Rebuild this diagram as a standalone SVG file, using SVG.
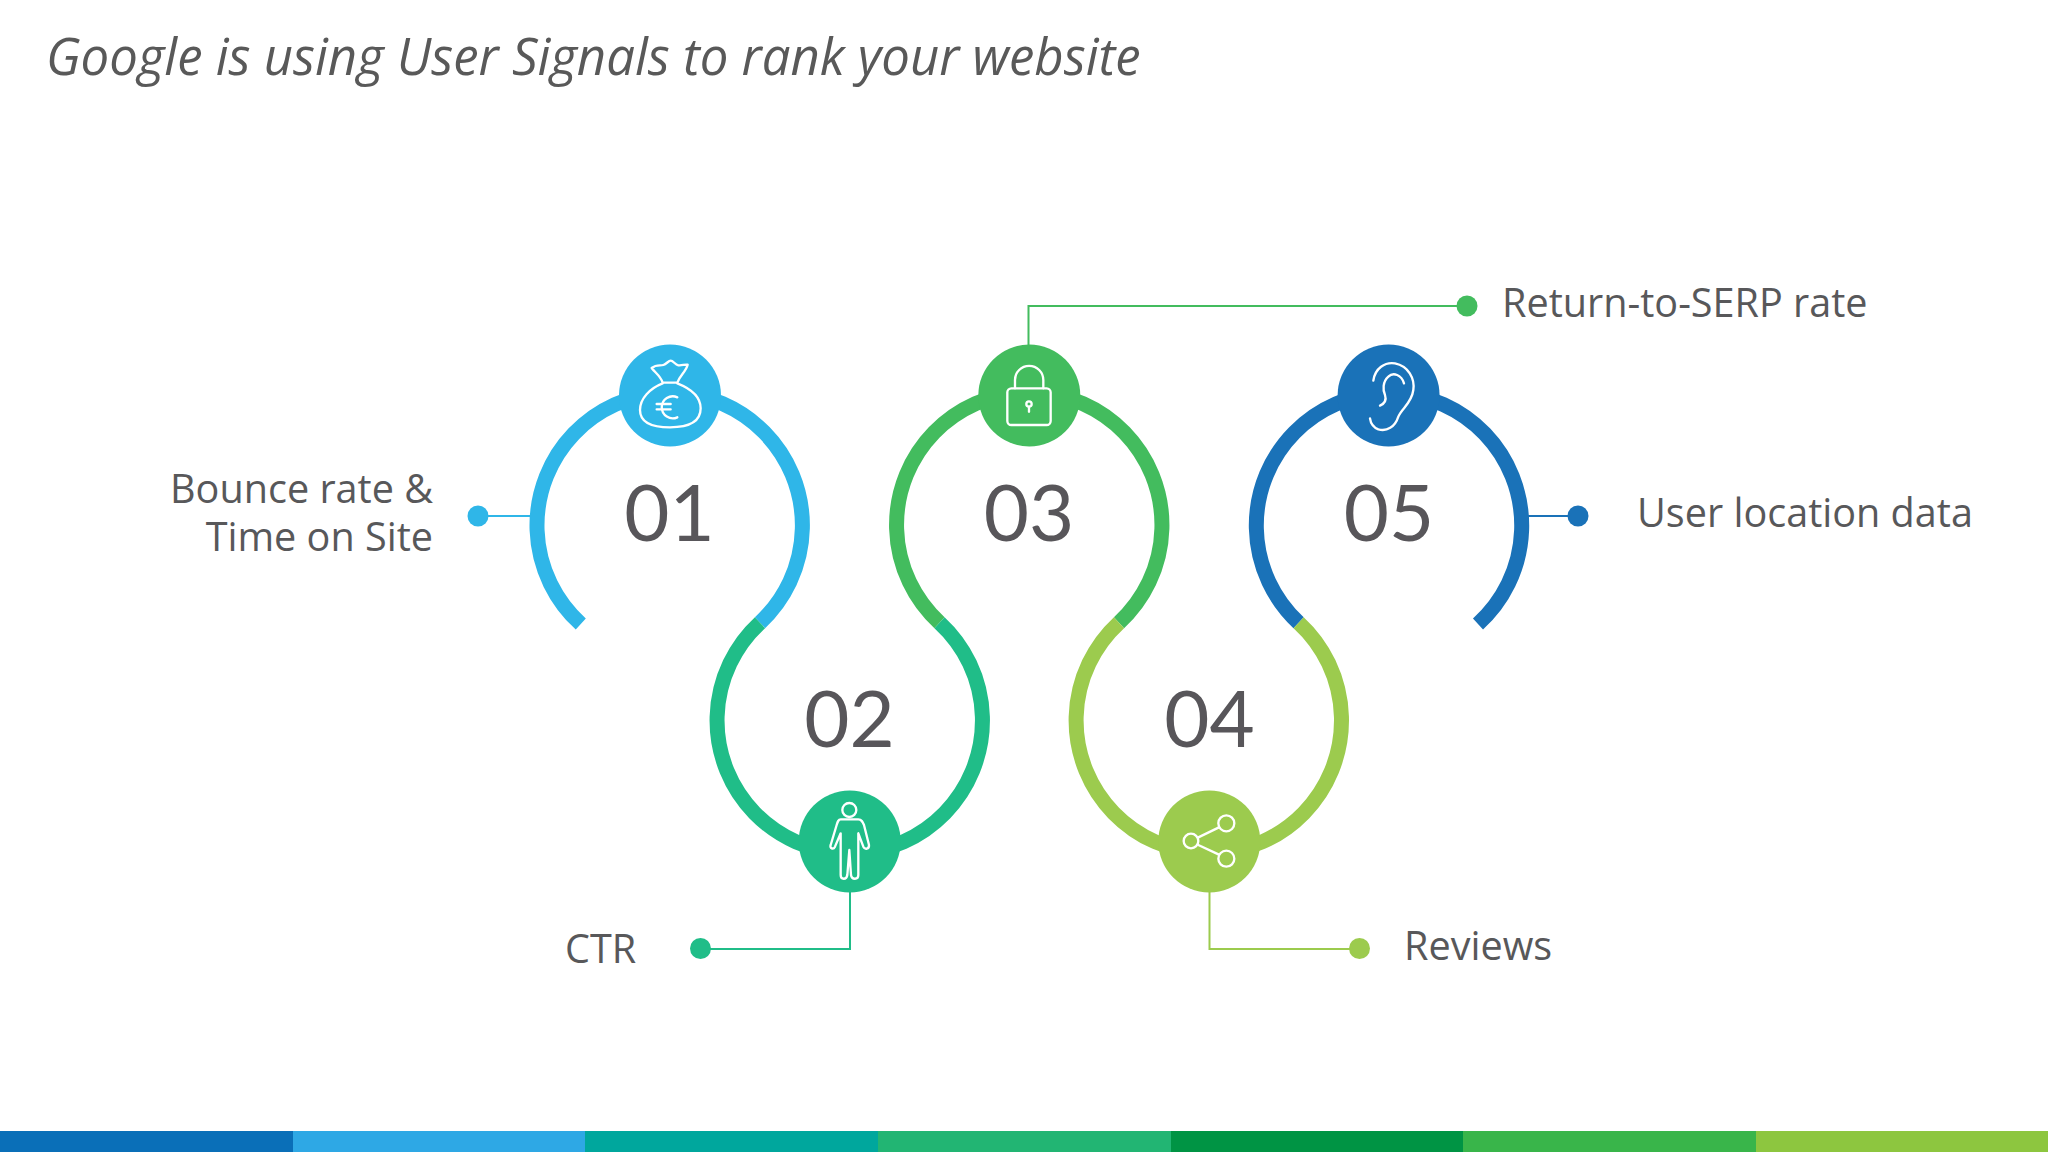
<svg xmlns="http://www.w3.org/2000/svg" width="2048" height="1152" viewBox="0 0 2048 1152">
<style>
text{font-family:"Open Sans","Noto Sans",sans-serif;fill:#58585a}
.t{font-style:italic;font-size:50.9px;fill:#595959}
.l{font-size:39.6px}
.n{font-family:Lato,"Open Sans",sans-serif;font-size:78px;text-anchor:middle;fill:#58565a}
.r{fill:none;stroke-width:15}
.w{fill:none;stroke-width:2}
.i{fill:none;stroke:#fff;stroke-width:7;stroke-linecap:round;stroke-linejoin:round}
</style>
<rect width="2048" height="1152" fill="#fff"/>
<text class="t" x="46" y="75">Google is using User Signals to rank your website</text>
<g id="connectors">
<path class="r" stroke="#2fb6e8" d="M580.8,624 A132.7,132.7 0 1 1 760,622.7"/>
<path class="r" stroke="#43bc5e" d="M939.5,622.7 A132.7,132.7 0 1 1 1119,622.7"/>
<path class="r" stroke="#1a72b8" d="M1298.6,622.7 A132.7,132.7 0 1 1 1478,624"/>
<path class="r" stroke="#20bd88" d="M760,622.7 A132.7,132.7 0 1 0 939.5,622.7"/>
<path class="r" stroke="#9ccb4e" d="M1119,622.7 A132.7,132.7 0 1 0 1298.6,622.7"/>
<path class="w" stroke="#2fb6e8" d="M478,516H530"/>
<path class="w" stroke="#20bd88" d="M850,890V949H700"/>
<path class="w" stroke="#43bc5e" d="M1028.5,346V306H1467"/>
<path class="w" stroke="#9ccb4e" d="M1209.5,890V949H1359"/>
<path class="w" stroke="#1a72b8" d="M1528,516H1578"/>
</g>
<g id="node-01">
<circle cx="670" cy="395.5" r="51" fill="#2fb6e8"/>
<g class="i" transform="translate(600 340) scale(.3333)">
<path d="M155,84C170,72 180,78 190,75C200,72 205,62 212,62C220,62 225,74 235,76C245,78 255,72 263,74C258,95 240,105 232,128H188C182,108 165,98 155,84Z"/>
<path d="M188,130C150,145 120,175 120,210C120,250 160,262 210,262C260,262 302,250 302,205C302,170 270,145 232,130"/>
<path d="M232,172A33,33 0 1 0 232,232M170,192H212M170,208H212"/>
</g>
<text class="n" x="669.5" y="541">01</text>
</g>
<g id="node-02">
<circle cx="849.7" cy="841.5" r="51" fill="#20bd88"/>
<g class="i" transform="translate(790 780) scale(.3333)">
<circle cx="178" cy="90" r="21"/>
<path d="M152,118H205C215,118 218,125 222,135L237,195C238,207 225,210 220,200L205,160V285C205,300 185,300 183,285L178,210L172,285C170,300 152,300 152,285V160L135,200C130,210 118,205 122,195L140,135C143,125 145,118 152,118Z"/>
</g>
<text class="n" x="849.5" y="747">02</text>
</g>
<g id="node-03">
<circle cx="1029.3" cy="395.5" r="51" fill="#43bc5e"/>
<g class="i" transform="translate(960 340) scale(.3333)">
<rect x="142" y="145" width="130" height="110" rx="12"/>
<path d="M165,145V120A42,42 0 0 1 250,120V145"/>
<circle cx="207" cy="192" r="8"/>
<path d="M207,200V215"/>
</g>
<text class="n" x="1029" y="541">03</text>
</g>
<g id="node-04">
<circle cx="1209.3" cy="841.5" r="51" fill="#9ccb4e"/>
<g class="i" transform="translate(1150 780) scale(.3333)">
<circle cx="123" cy="183" r="22"/>
<circle cx="229" cy="130" r="24"/>
<circle cx="229" cy="236" r="24"/>
<path d="M145,172L207,142M145,195L207,224"/>
</g>
<text class="n" x="1209.5" y="747">04</text>
</g>
<g id="node-05">
<circle cx="1388.6" cy="395.5" r="51" fill="#1a72b8"/>
<g class="i" transform="translate(1330 340) scale(.3333)">
<path d="M130,122C135,85 165,65 195,70C235,78 255,115 250,150C245,190 215,205 205,230C195,262 170,275 145,268C130,262 122,250 120,235"/>
<path d="M222,130C215,105 190,95 175,110C158,125 158,150 165,165C170,180 165,190 150,197"/>
</g>
<text class="n" x="1389" y="541">05</text>
</g>
<g id="label-01">
<circle cx="478" cy="516" r="10.5" fill="#2fb6e8"/>
<text class="l" x="433" y="503" text-anchor="end">Bounce rate &amp;</text>
<text class="l" x="433" y="551" text-anchor="end">Time on Site</text>
</g>
<g id="label-02">
<circle cx="700.5" cy="948.5" r="10.5" fill="#20bd88"/>
<text class="l" x="565" y="963">CTR</text>
</g>
<g id="label-03">
<circle cx="1467" cy="306" r="10.5" fill="#43bc5e"/>
<text class="l" x="1502" y="317">Return-to-SERP rate</text>
</g>
<g id="label-04">
<circle cx="1359.5" cy="948.5" r="10.5" fill="#9ccb4e"/>
<text class="l" x="1404" y="960">Reviews</text>
</g>
<g id="label-05">
<circle cx="1578" cy="516" r="10.5" fill="#1a72b8"/>
<text class="l" x="1637" y="527">User location data</text>
</g>
<g id="footer">
<rect x="0" y="1131" width="293" height="21" fill="#0a6fb8"/>
<rect x="293" y="1131" width="292" height="21" fill="#2ea8e5"/>
<rect x="585" y="1131" width="293" height="21" fill="#00a79d"/>
<rect x="878" y="1131" width="293" height="21" fill="#22b573"/>
<rect x="1171" y="1131" width="292" height="21" fill="#009444"/>
<rect x="1463" y="1131" width="293" height="21" fill="#39b54a"/>
<rect x="1756" y="1131" width="292" height="21" fill="#8dc63f"/>
</g>
</svg>
